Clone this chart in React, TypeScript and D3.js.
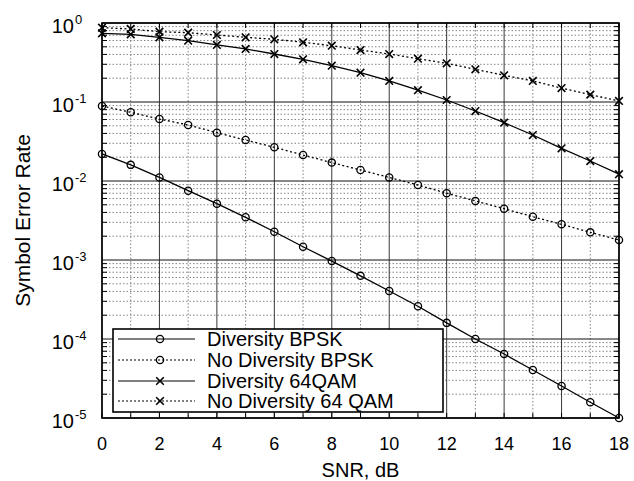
import React from "react";
import * as d3 from "d3";

const snrDb = [0, 1, 2, 3, 4, 5, 6, 7, 8, 9, 10, 11, 12, 13, 14, 15, 16, 17, 18];

const diversityBpsk = [
  0.022, 0.016, 0.0111, 0.00754, 0.00516, 0.00347, 0.00228, 0.00147, 0.00097,
  6.3e-4, 4.05e-4, 2.6e-4, 1.6e-4, 1.0e-4, 6.45e-5, 4.05e-5, 2.54e-5, 1.58e-5, 1.0e-5,
];
const noDiversityBpsk = [
  0.089, 0.0741, 0.0609, 0.0512, 0.0409, 0.033, 0.0267, 0.0213, 0.0171, 0.0138,
  0.0111, 0.0089, 0.007, 0.0056, 0.00446, 0.00353, 0.00283, 0.00224, 0.00179,
];
const diversity64qam = [
  0.74, 0.719, 0.659, 0.597, 0.527, 0.469, 0.405, 0.347, 0.288, 0.235, 0.185,
  0.141, 0.106, 0.0769, 0.0547, 0.0382, 0.0259, 0.0179, 0.0122,
];
const noDiversity64qam = [
  0.873, 0.84, 0.776, 0.754, 0.705, 0.659, 0.622, 0.57, 0.516, 0.455, 0.405,
  0.353, 0.309, 0.259, 0.218, 0.185, 0.15, 0.124, 0.103,
];

const xTicks = [0, 2, 4, 6, 8, 10, 12, 14, 16, 18];
const yExponents = [0, -1, -2, -3, -4, -5];

const series = [
  { name: "Diversity BPSK", values: diversityBpsk, dotted: false, marker: "o" },
  { name: "No Diversity BPSK", values: noDiversityBpsk, dotted: true, marker: "o" },
  { name: "Diversity 64QAM", values: diversity64qam, dotted: false, marker: "x" },
  { name: "No Diversity 64 QAM", values: noDiversity64qam, dotted: true, marker: "x" },
];

const font = "'Liberation Sans', Arial, Helvetica, sans-serif";

function Marker({ type, x, y }: { type: string; x: number; y: number }) {
  if (type === "o") {
    return <circle cx={x} cy={y} r={3.6} fill="none" stroke="#000" strokeWidth={1.3} />;
  }
  const s = 3.8;
  return (
    <path
      d={`M${x - s},${y - s}L${x + s},${y + s}M${x - s},${y + s}L${x + s},${y - s}`}
      stroke="#000"
      strokeWidth={1.6}
    />
  );
}

export default function App() {
  const left = 102, right = 619, top = 23, bottom = 418;
  const x = d3.scaleLinear().domain([0, 18]).range([left, right]);
  const y = d3.scaleLog().domain([1e-5, 1]).range([bottom, top]);

  const minor: number[] = [];
  for (let e = -5; e < 0; e++) {
    for (let m = 2; m <= 9; m++) minor.push(m * Math.pow(10, e));
  }
  const oddX = snrDb.filter((d) => d % 2 === 1);

  const line = d3
    .line<number>()
    .x((d, i) => x(snrDb[i]))
    .y((d) => y(d));

  const legendRows = [339, 360, 381, 401];

  return (
    <svg
      width={634}
      height={481}
      style={{ position: "absolute", left: 0, top: 0, background: "#fff" }}
      fontFamily={font}
    >
      <rect width={634} height={481} fill="#fff" />

      {/* minor horizontal grid */}
      {minor.map((v) => (
        <line key={"mh" + v} x1={left} x2={right} y1={y(v)} y2={y(v)}
          stroke="#666" strokeWidth={0.8} strokeDasharray="1.5,2" />
      ))}
      {/* odd vertical grid */}
      {oddX.map((v) => (
        <line key={"ov" + v} x1={x(v)} x2={x(v)} y1={top} y2={bottom}
          stroke="#666" strokeWidth={0.8} strokeDasharray="1.5,2" />
      ))}
      {/* major grid */}
      {yExponents.map((e) => (
        <line key={"My" + e} x1={left} x2={right} y1={y(Math.pow(10, e))} y2={y(Math.pow(10, e))}
          stroke="#111" strokeWidth={1} />
      ))}
      {xTicks.map((v) => (
        <line key={"Mx" + v} x1={x(v)} x2={x(v)} y1={top} y2={bottom}
          stroke="#222" strokeWidth={0.9} />
      ))}

      {/* ticks */}
      {snrDb.map((v) => (
        <g key={"tx" + v}>
          <line x1={x(v)} x2={x(v)} y1={bottom} y2={bottom - 5} stroke="#000" />
          <line x1={x(v)} x2={x(v)} y1={top} y2={top + 5} stroke="#000" />
        </g>
      ))}
      {minor.map((v) => (
        <g key={"ty" + v}>
          <line x1={left} x2={left + 5} y1={y(v)} y2={y(v)} stroke="#000" />
          <line x1={right} x2={right - 5} y1={y(v)} y2={y(v)} stroke="#000" />
        </g>
      ))}

      {/* series */}
      {series.map((s) => (
        <g key={s.name}>
          <path d={line(s.values) || ""} fill="none" stroke="#000"
            strokeWidth={1.3} strokeDasharray={s.dotted ? "2,2.5" : undefined} />
          {s.values.map((v, i) => (
            <Marker key={i} type={s.marker} x={x(snrDb[i])} y={y(v)} />
          ))}
        </g>
      ))}

      {/* frame */}
      <rect x={left} y={top} width={right - left} height={bottom - top} fill="none" stroke="#000" strokeWidth={1.6} />

      {/* legend */}
      <rect x={113} y={329} width={330} height={83} fill="#fff" stroke="#000" strokeWidth={1.6} />
      {series.map((s, i) => (
        <g key={"lg" + s.name}>
          <line x1={118} x2={195} y1={legendRows[i]} y2={legendRows[i]} stroke="#000"
            strokeWidth={1} strokeDasharray={s.dotted ? "2,2" : undefined} />
          <Marker type={s.marker} x={160} y={legendRows[i]} />
          <text x={207} y={legendRows[i] + 7} fontSize={20} fill="#000">{s.name}</text>
        </g>
      ))}

      {/* x tick labels */}
      {xTicks.map((v) => (
        <text key={"xl" + v} x={x(v)} y={450} fontSize={18} textAnchor="middle" fill="#000">{v}</text>
      ))}
      {/* y tick labels */}
      {yExponents.map((e) => (
        <text key={"yl" + e} x={74} y={y(Math.pow(10, e)) + 10} fontSize={20} textAnchor="end" fill="#000">
          10
        </text>
      ))}
      {yExponents.map((e) => (
        <text key={"ye" + e} x={75} y={y(Math.pow(10, e)) + 1} fontSize={13} textAnchor="start" fill="#000">
          {e}
        </text>
      ))}

      <text x={x(9)} y={477} fontSize={20} textAnchor="middle" fill="#000">SNR, dB</text>
      <text transform={`translate(30,${(top + bottom) / 2}) rotate(-90)`} fontSize={21}
        textAnchor="middle" fill="#000">Symbol Error Rate</text>
    </svg>
  );
}
